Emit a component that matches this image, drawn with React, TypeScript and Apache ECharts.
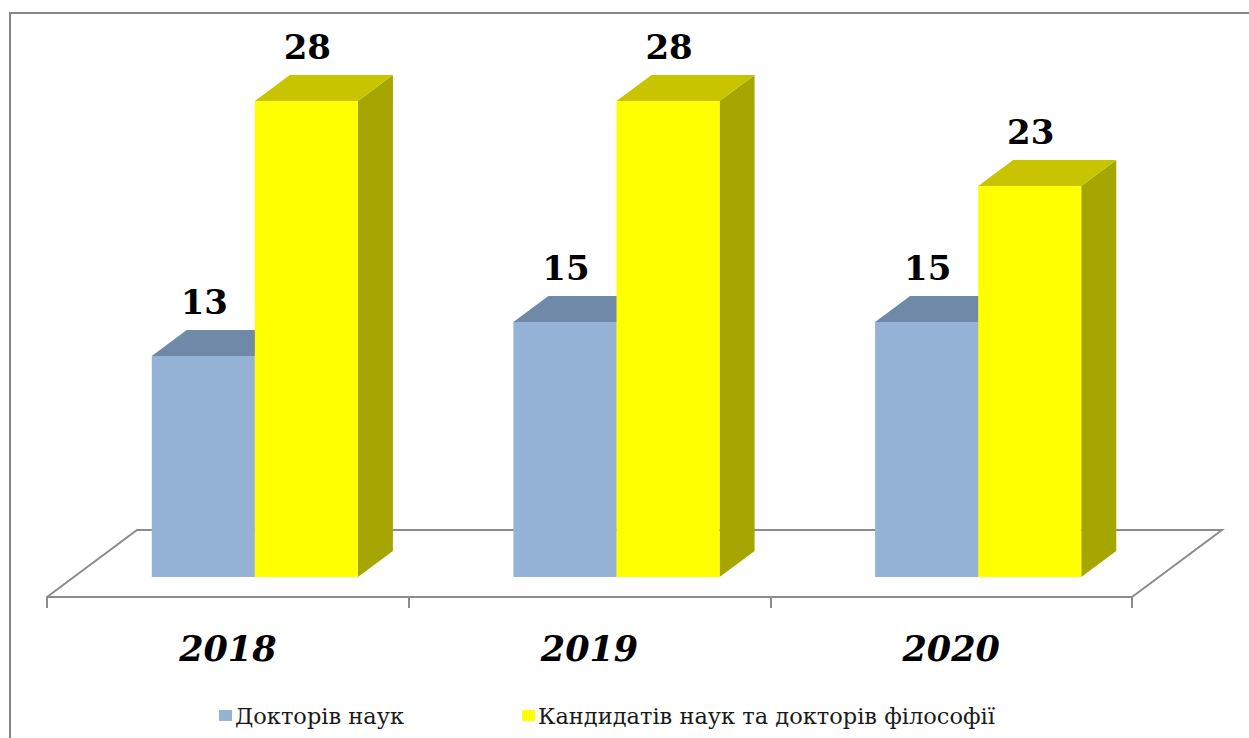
import React, { useEffect, useRef } from "react";
import * as echarts from "echarts";

const categories = ["2018", "2019", "2020"];
const doctorsValues = [13, 15, 15];
const candidatesValues = [28, 28, 23];
const seriesNames = ["Докторів наук", "Кандидатів наук та докторів філософії"];

const BLUE = { front: "#95B3D7", top: "#7189A8", side: "#6A7F9C" };
const YELLOW = { front: "#FFFF00", top: "#C8C400", side: "#A6A600" };

const FRONT_OX = 27;
const FRONT_OY = -20;
const DEPTH_X = 35;
const DEPTH_Y = -26;
const FLOOR_X = 90;
const FLOOR_Y = -67;
const BAR_RATIO = 0.285;
const LABEL_FONT = "'DejaVu Serif', 'Liberation Serif', serif";

function makeBarRender(seriesIdx: number, colors: { front: string; top: string; side: string }) {
  return (params: any, api: any) => {
    const i = api.value(0);
    const v = api.value(1);
    const c0 = api.coord([i, 0]);
    const c1 = api.coord([i, v]);
    const band = api.size([1, 0])[0];
    const barW = band * BAR_RATIO;
    const cx = c0[0] + FRONT_OX;
    const x0 = seriesIdx === 0 ? cx - barW : cx;
    const x1 = x0 + barW;
    const yB = c0[1] + FRONT_OY;
    const yT = c1[1] + FRONT_OY;
    return {
      type: "group",
      children: [
        {
          type: "polygon",
          shape: { points: [[x1, yT], [x1 + DEPTH_X, yT + DEPTH_Y], [x1 + DEPTH_X, yB + DEPTH_Y], [x1, yB]] },
          style: { fill: colors.side },
        },
        {
          type: "polygon",
          shape: { points: [[x0, yT], [x1, yT], [x1 + DEPTH_X, yT + DEPTH_Y], [x0 + DEPTH_X, yT + DEPTH_Y]] },
          style: { fill: colors.top },
        },
        {
          type: "rect",
          shape: { x: x0, y: yT, width: barW, height: yB - yT },
          style: { fill: colors.front },
        },
        {
          type: "text",
          x: (x0 + x1) / 2 + 1,
          y: yT - 54,
          style: {
            text: String(v),
            fill: "#000",
            font: `bold 34px ${LABEL_FONT}`,
            align: "center",
            verticalAlign: "middle",
          },
        },
      ],
    };
  };
}

function floorRender(params: any, api: any) {
  const cs = params.coordSys;
  const fx0 = cs.x;
  const fx1 = cs.x + cs.width;
  const fy = cs.y + cs.height;
  const lineStyle = { stroke: "#8C8C8C", lineWidth: 2, fill: null };
  return {
    type: "group",
    children: [
      {
        type: "polygon",
        shape: { points: [[fx0, fy], [fx0 + FLOOR_X, fy + FLOOR_Y], [fx1 + FLOOR_X, fy + FLOOR_Y], [fx1, fy]] },
        style: { fill: "#FFFFFF", stroke: null },
      },
      {
        type: "polyline",
        shape: { points: [[fx0, fy], [fx0 + FLOOR_X, fy + FLOOR_Y], [fx1 + FLOOR_X, fy + FLOOR_Y], [fx1, fy]] },
        style: lineStyle,
      },
    ],
  };
}

export default function App() {
  const ref = useRef<HTMLDivElement>(null);
  useEffect(() => {
    if (!ref.current) return;
    const chart = echarts.init(ref.current, null, { renderer: "svg" });
    chart.setOption({
      animation: false,
      backgroundColor: "#FFFFFF",
      graphic: [
        {
          type: "rect",
          shape: { x: 10, y: 13, width: 1400, height: 900 },
          style: { fill: null, stroke: "#868686", lineWidth: 2 },
          z: 100,
        },
      ],
      grid: { left: 47, right: 117, top: 87, bottom: 141 },
      xAxis: {
        type: "category",
        data: categories,
        boundaryGap: true,
        axisLine: { show: true, lineStyle: { color: "#8C8C8C", width: 2 } },
        axisTick: { show: true, length: 11, lineStyle: { color: "#8C8C8C", width: 2 } },
        axisLabel: {
          margin: 51,
          verticalAlign: "middle",
          fontSize: 35,
          fontWeight: "bold",
          fontStyle: "italic",
          fontFamily: LABEL_FONT,
          color: "#000",
        },
        z: 3,
      },
      yAxis: {
        type: "value",
        min: 0,
        max: 30,
        show: false,
        splitLine: { show: false },
      },
      legend: {
        data: seriesNames.map((n, k) => ({ name: n, itemStyle: { color: k === 0 ? BLUE.front : YELLOW.front } })),
        left: 214,
        top: 699,
        icon: "rect",
        itemWidth: 13,
        itemHeight: 11,
        itemGap: 118,
        textStyle: { fontFamily: "'DejaVu Serif', serif", fontSize: 22.5, color: "#1A1A1A", padding: [0, 0, 0, -2] },
      },
      series: [
        {
          type: "custom",
          name: "floor",
          renderItem: floorRender,
          data: [[0, 0]],
          z: 1,
          silent: true,
        },
        {
          type: "custom",
          name: seriesNames[0],
          renderItem: makeBarRender(0, BLUE),
          data: doctorsValues.map((v, i) => [i, v]),
          itemStyle: { color: BLUE.front },
          z: 5,
        },
        {
          type: "custom",
          name: seriesNames[1],
          renderItem: makeBarRender(1, YELLOW),
          data: candidatesValues.map((v, i) => [i, v]),
          itemStyle: { color: YELLOW.front },
          z: 6,
        },
      ],
    });
    return () => chart.dispose();
  }, []);
  return (
    <div
      ref={ref}
      style={{ position: "fixed", left: 0, top: 0, width: 1249, height: 738, background: "#fff" }}
    />
  );
}
